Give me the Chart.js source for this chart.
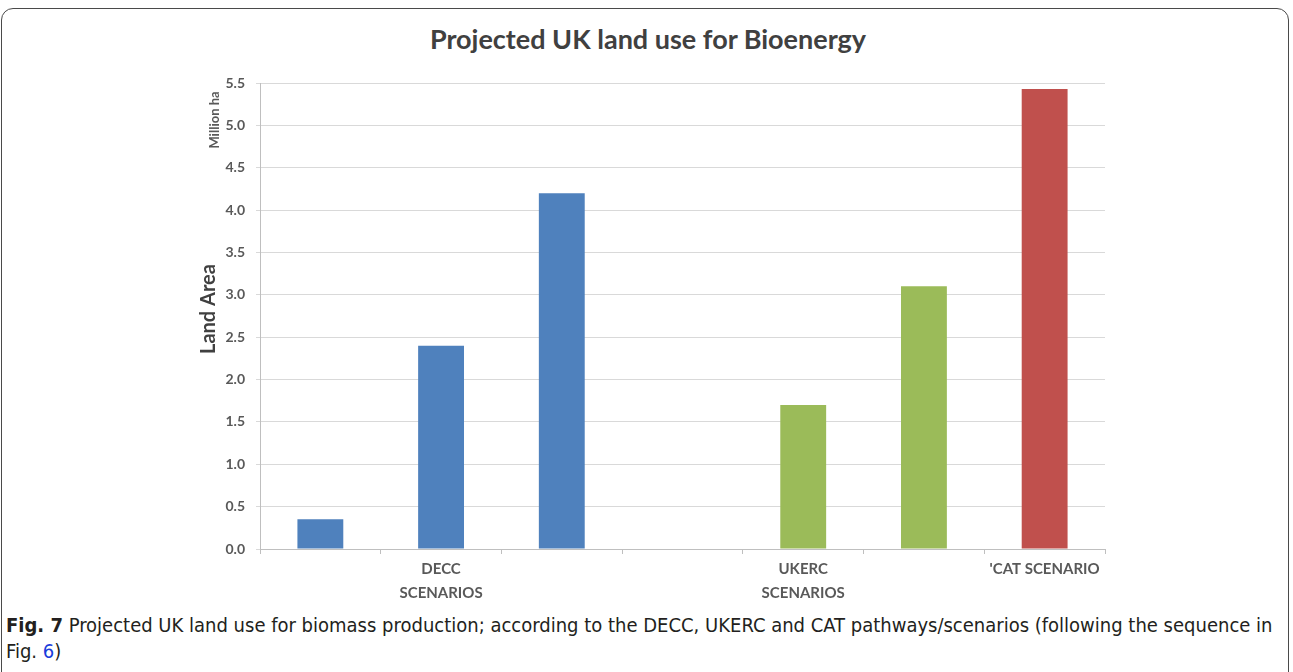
<!DOCTYPE html>
<html>
<head>
<meta charset="utf-8">
<script src="https://cdn.jsdelivr.net/npm/chart.js@4"></script>
<style>
  html, body { margin: 0; padding: 0; background: #fff; }
  body { width: 1293px; height: 672px; position: relative; overflow: hidden; }
  #box {
    position: absolute; left: 1px; top: 8px; width: 1288px; height: 700px;
    border: 1.5px solid #4a4a4a; border-radius: 12px; box-sizing: border-box;
  }
  #title {
    position: absolute; left: 0; width: 1296px; top: 22px; text-align: center;
    font: bold 27px Lato, "Open Sans", sans-serif; color: #404040;
  }
  #wrap { position: absolute; left: 0; top: 0; width: 1293px; height: 610px; }
  #caption {
    position: absolute; left: 6px; top: 612px; width: 1278px;
    font: 20px "Liberation Sans Narrow", "DejaVu Sans Condensed", sans-serif;
    color: #231f20; line-height: 26px;
  }
  #caption b { font-weight: bold; }
  #caption a { color: #1a3ddb; text-decoration: none; }
</style>
</head>
<body>
<div id="box"></div>
<div id="title">Projected UK land use for Bioenergy</div>
<div id="wrap"><canvas id="barChart"></canvas></div>
<div id="caption"><b>Fig. 7</b> Projected UK land use for biomass production; according to the DECC, UKERC and CAT pathways/scenarios (following the sequence in Fig. <a>6</a>)</div>
<script>
// slot labels (only some slots carry a group label)
var labels = [[''], ['DECC', 'SCENARIOS'], [''], [''], ['UKERC', 'SCENARIOS'], [''], ["'CAT SCENARIO"]];
var decc = [0.35, 2.4, 4.2, null, null, null, null];
var ukerc = [null, null, null, null, 1.7, 3.1, null];
var cat = [null, null, null, null, null, null, 5.43];
var yTicks = [0, 0.5, 1, 1.5, 2, 2.5, 3, 3.5, 4, 4.5, 5, 5.5];

// axis titles drawn by hand so they sit where the original has them
var axisText = {
  id: 'axisText',
  afterDraw: function(chart) {
    var c = chart.ctx;
    c.save();
    c.fillStyle = '#404040';
    c.textAlign = 'center';
    c.textBaseline = 'middle';
    c.translate(209, 309);
    c.rotate(-Math.PI / 2);
    c.font = 'bold 20px Lato, "Open Sans", sans-serif';
    c.fillText('Land Area', 0, 0);
    c.restore();
    c.save();
    c.fillStyle = '#595959';
    c.textAlign = 'center';
    c.textBaseline = 'middle';
    c.translate(215, 120);
    c.rotate(-Math.PI / 2);
    c.font = 'bold 13px Lato, "Open Sans", sans-serif';
    c.fillText('Million ha', 0, 0);
    c.restore();
  }
};

var ctx = document.getElementById('barChart').getContext('2d');
var barChart = new Chart(ctx, {
  type: 'bar',
  data: {
    labels: labels,
    datasets: [
      { label: 'DECC', data: decc, backgroundColor: '#4F81BD' },
      { label: 'UKERC', data: ukerc, backgroundColor: '#9BBB59' },
      { label: 'CAT', data: cat, backgroundColor: '#C0504D' }
    ]
  },
  plugins: [axisText],
  options: {
    responsive: true,
    maintainAspectRatio: false,
    animation: false,
    layout: { padding: { top: 83, left: 190, right: 188, bottom: 0 } },
    datasets: { bar: { grouped: false, barPercentage: 0.38, categoryPercentage: 1 } },
    plugins: { legend: { display: false }, tooltip: { enabled: false } },
    scales: {
      x: {
        offset: true,
        grid: { offset: true, drawOnChartArea: false, color: '#bfbfbf', tickLength: 5 },
        border: { color: '#bfbfbf' },
        afterFit: function(s) { s.height = 61; },
        ticks: {
          color: '#595959',
          font: { family: 'Lato, "Open Sans", sans-serif', size: 15, weight: 'bold', lineHeight: 1.6 },
          padding: 3, maxRotation: 0, autoSkip: false
        }
      },
      y: {
        min: 0, max: 5.5,
        afterBuildTicks: function(s) { s.ticks = yTicks.map(function(v) { return { value: v }; }); },
        afterFit: function(s) { s.width = 70; },
        grid: { color: '#d9d9d9', tickLength: 4 },
        border: { color: '#bfbfbf' },
        ticks: {
          color: '#595959',
          font: { family: 'Lato, "Open Sans", sans-serif', size: 14, weight: 'bold' },
          padding: 11,
          callback: function(v) { return Number(v).toFixed(1); }
        }
      }
    }
  }
});
</script>
</body>
</html>
